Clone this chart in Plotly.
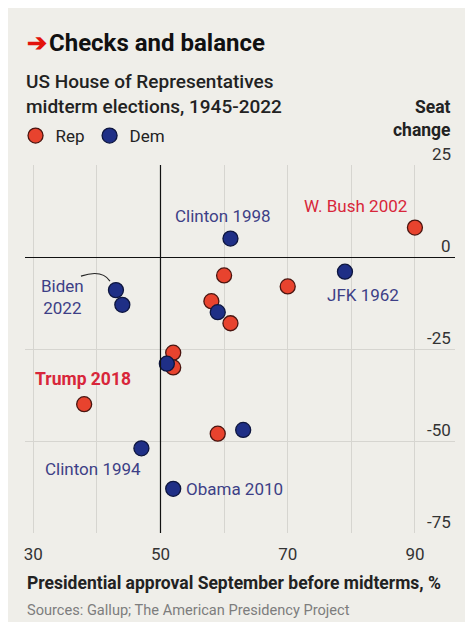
import plotly.graph_objects as go

# Midterm elections: presidential approval (%) vs House seat change
rep_approval = [90, 60, 70, 58, 61, 52, 52, 38, 59]
rep_seats = [8, -5, -8, -12, -18, -26, -30, -40, -48]

dem_approval = [61, 79, 43, 44, 59, 51, 63, 47, 52]
dem_seats = [5, -4, -9, -13, -15, -29, -47, -52, -63]

x_ticks = [30, 40, 50, 60, 70, 80, 90]
x_tick_text = ["30", "", "50", "", "70", "", "90"]
y_ticks = [25, 0, -25, -50, -75]
midpoint = 50

RED = "#e8432e"
BLUE = "#1f2f86"
RED_TXT = "#d8263a"
BLUE_TXT = "#3d3f86"
FONT = "Roboto"

fig = go.Figure()
fig.add_trace(go.Scatter(
    x=rep_approval, y=rep_seats, mode="markers", name="Rep",
    marker=dict(size=15, color=RED, line=dict(color="#4a1510", width=1.3)),
))
fig.add_trace(go.Scatter(
    x=dem_approval, y=dem_seats, mode="markers", name="Dem",
    marker=dict(size=15, color=BLUE, line=dict(color="#0e163f", width=1.3)),
))

# point labels: (x, y, text, colour, xshift, yshift, xanchor, bold)
labels = [
    (61, 5, "Clinton 1998", BLUE_TXT, -7, 23, "center", False),
    (90, 8, "W. Bush 2002", RED_TXT, -59, 22, "center", False),
    (79, -4, "JFK 1962", BLUE_TXT, 18, -23, "center", False),
    (43, -9, "Biden<br>2022", BLUE_TXT, -53, -7, "center", False),
    (38, -40, "Trump 2018", RED_TXT, -1, 25, "center", True),
    (47, -52, "Clinton 1994", BLUE_TXT, -48, -21, "center", False),
    (52, -63, "Obama 2010", BLUE_TXT, 11, 0, "left", False),
]
annotations = []
for x, y, txt, col, dx, dy, anchor, bold in labels:
    annotations.append(dict(
        x=x, y=y, xref="x", yref="y", text=f"<b>{txt}</b>" if bold else txt,
        showarrow=False, xshift=dx, yshift=dy, xanchor=anchor, yanchor="middle",
        font=dict(family=FONT, size=17.5 if bold else 17, color=col),
        align="center",
    ))

# y tick labels sit above their gridlines on the right
for v in y_ticks:
    annotations.append(dict(
        x=1, y=v, xref="paper", yref="y", text=str(v), showarrow=False,
        xanchor="right", yanchor="middle", yshift=11, xshift=-2,
        font=dict(family=FONT, size=17, color="#333333"),
    ))

annotations += [
    dict(x=0, y=1, xref="paper", yref="paper", xanchor="left", yanchor="middle",
         xshift=0, yshift=165 - 43, showarrow=False,
         text="<span style='color:#e3120b'><b>➔</b></span>"
              "<span style='font-size:8px'> </span><b>Checks and balance</b>",
         font=dict(family=FONT, size=24, color="#111111")),
    dict(x=0, y=1, xref="paper", yref="paper", xanchor="left", yanchor="middle",
         xshift=-1, yshift=165 - 94, showarrow=False, align="left",
         text="US House of Representatives<br>midterm elections, 1945-2022",
         font=dict(family=FONT, size=19, color="#222222", weight=500)),
    dict(x=1, y=1, xref="paper", yref="paper", xanchor="right", yanchor="middle",
         xshift=-2, yshift=165 - 118, showarrow=False, align="right",
         text="<b>Seat<br>change</b>",
         font=dict(family=FONT, size=17.5, color="#222222")),
    dict(x=0, y=0, xref="paper", yref="paper", xanchor="left", yanchor="middle",
         xshift=0, yshift=-(583 - 533), showarrow=False,
         text="<b>Presidential approval September before midterms, %</b>",
         font=dict(family=FONT, size=17.5, color="#222222")),
    dict(x=0, y=0, xref="paper", yref="paper", xanchor="left", yanchor="middle",
         xshift=0, yshift=-(610 - 533), showarrow=False,
         text="Sources: Gallup; The American Presidency Project",
         font=dict(family=FONT, size=14.6, color="#7d7d7d")),
]

shapes = [
    # background panel
    dict(type="rect", xref="paper", yref="paper", x0=-0.0395, x1=1.03,
         y0=-0.242, y1=1.4266, fillcolor="#efeee9", line=dict(width=0),
         layer="below"),
    # reference line at 50% approval
    dict(type="line", xref="x", yref="paper", x0=midpoint, x1=midpoint,
         y0=0, y1=1, line=dict(color="#111111", width=1.2)),
    # connector from the Biden label to his point
    dict(type="path", xref="x", yref="y", xsizemode="pixel", ysizemode="pixel",
         xanchor=43, yanchor=-9, path="M -35,14 Q -14,21 -6,9",
         line=dict(color="#222222", width=1.1)),
]

fig.update_layout(
    width=465, height=625,
    margin=dict(l=25, r=10, t=165, b=92),
    paper_bgcolor="white", plot_bgcolor="rgba(0,0,0,0)",
    font=dict(family=FONT),
    showlegend=True,
    legend=dict(orientation="h", x=-0.022, y=1 + (165 - 136) / 368,
                xanchor="left", yanchor="middle",
                xref="paper", yref="paper",
                font=dict(family=FONT, size=17, color="#222222"),
                bgcolor="rgba(0,0,0,0)", itemwidth=30, tracegroupgap=0),
    annotations=annotations,
    shapes=shapes,
    xaxis=dict(range=[28.7, 96.3], tickvals=x_ticks, ticktext=x_tick_text,
               showgrid=True, gridcolor="#d6d5d0", gridwidth=1,
               zeroline=False, showline=False, ticks="outside", ticklen=6,
               tickcolor="rgba(0,0,0,0)",
               tickfont=dict(family=FONT, size=17, color="#333333")),
    yaxis=dict(range=[-75, 25], tickvals=y_ticks, showticklabels=False,
               showgrid=True, gridcolor="#d6d5d0", gridwidth=1,
               zeroline=True, zerolinecolor="#111111", zerolinewidth=1.2,
               showline=False),
)

fig.write_html("out.html")
